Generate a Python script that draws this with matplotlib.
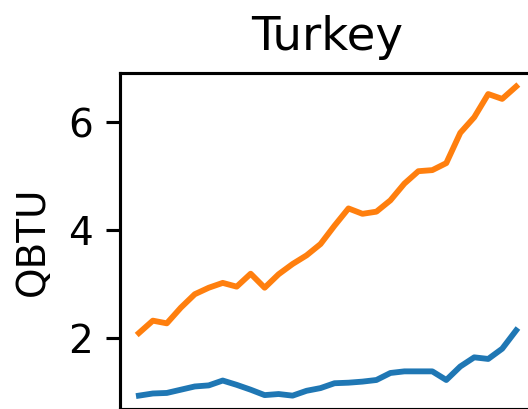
import matplotlib
matplotlib.use('Agg')
import matplotlib.pyplot as plt
import numpy as np

# annual series, QBTU
years = np.arange(1990, 2018)
series_low = [0.93, 0.97, 0.98, 1.04, 1.10, 1.12, 1.21, 1.13, 1.04, 0.94,
              0.96, 0.93, 1.02, 1.07, 1.16, 1.17, 1.19, 1.22, 1.35, 1.38,
              1.38, 1.38, 1.22, 1.47, 1.64, 1.61, 1.80, 2.14]
series_high = [2.09, 2.32, 2.27, 2.56, 2.81, 2.93, 3.02, 2.95, 3.19, 2.93,
               3.18, 3.37, 3.53, 3.74, 4.08, 4.40, 4.30, 4.34, 4.55, 4.86,
               5.09, 5.11, 5.24, 5.80, 6.09, 6.52, 6.43, 6.66]

dpi = 280
fig = plt.figure(figsize=(528 / dpi, 409 / dpi), dpi=dpi)
ax = fig.add_axes([0.2273, 0.001, 0.786, 0.8205])

ax.plot(years, series_low, color='tab:blue')
ax.plot(years, series_high, color='tab:orange')

ax.set_ylim(0.69, 6.91)
ax.set_yticks([2, 4, 6])
ax.set_ylabel('QBTU')
ax.set_title('Turkey')
# year labels sit below the lower edge of the figure
ax.tick_params(axis='x', labelbottom=False)

fig.savefig('out.png', dpi=dpi)
